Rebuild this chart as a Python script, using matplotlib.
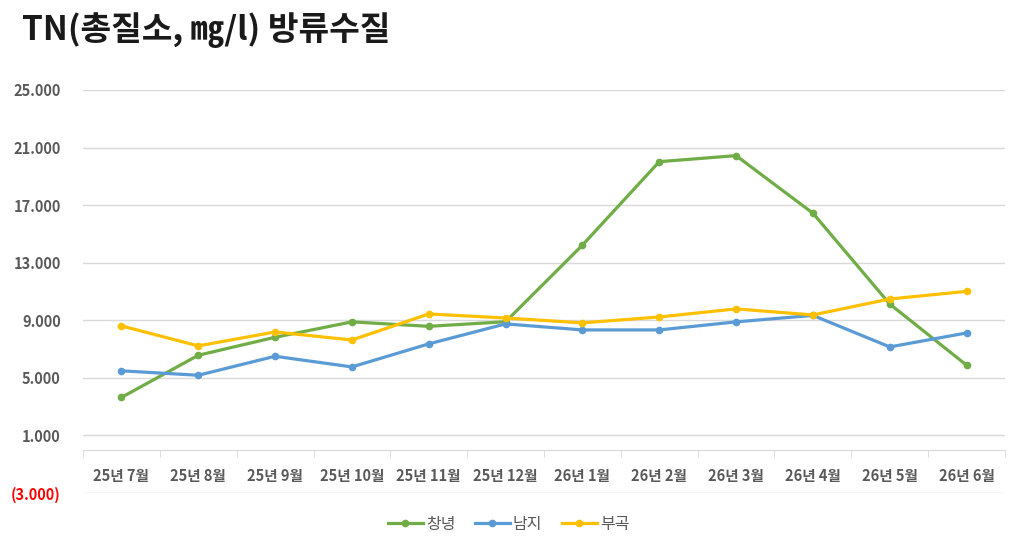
import matplotlib.pyplot as plt
from matplotlib.ticker import FixedLocator, FuncFormatter

plt.rcParams['font.family'] = ['Noto Sans CJK KR', 'DejaVu Sans']

months = ['25년 7월', '25년 8월', '25년 9월', '25년 10월', '25년 11월', '25년 12월',
          '26년 1월', '26년 2월', '26년 3월', '26년 4월', '26년 5월', '26년 6월']
changnyeong = [3.64, 6.57, 7.82, 8.89, 8.58, 8.90, 14.22, 20.02, 20.44, 16.44, 10.13, 5.88]
namji = [5.49, 5.18, 6.50, 5.76, 7.36, 8.75, 8.33, 8.33, 8.89, 9.34, 7.15, 8.12]
bugok = [8.61, 7.22, 8.19, 7.63, 9.44, 9.16, 8.82, 9.23, 9.79, 9.37, 10.48, 11.01]
yticks = [-3, 1, 5, 9, 13, 17, 21, 25]

grey = '#595959'
grid = '#D9D9D9'

fig = plt.figure(figsize=(10.17, 5.55), dpi=100)
ax = fig.add_axes([83 / 1017, 1 - 493 / 555, (1005 - 83) / 1017, (493 - 90) / 555])

x = list(range(len(months)))
ax.plot(x, changnyeong, color='#70AD47', lw=2.3, marker='o', ms=4.5, label='창녕')
ax.plot(x, namji, color='#5B9BD5', lw=2.3, marker='o', ms=4.5, label='남지')
ax.plot(x, bugok, color='#FFC000', lw=2.3, marker='o', ms=4.5, label='부곡')

ax.set_xlim(-0.5, len(months) - 0.5)
ax.set_ylim(-3, 25)

# y axis
ax.yaxis.set_major_locator(FixedLocator(yticks))
ax.yaxis.set_major_formatter(FuncFormatter(
    lambda v, p: f'({abs(v):.3f})' if v < 0 else f'{v:.3f}'))
ax.tick_params(axis='y', length=0, pad=16, labelsize=10.5, labelcolor=grey)
for lab in ax.get_yticklabels():
    lab.set_fontweight('bold')
    if lab.get_text().startswith('('):
        lab.set_color('red')
ax.grid(axis='y', color=grid, lw=1)
ax.set_axisbelow(True)

# x axis at zero
for s in ['top', 'right', 'left']:
    ax.spines[s].set_visible(False)
ax.spines['bottom'].set_position(('data', 0))
ax.spines['bottom'].set_color(grid)
ax.set_xticks(x)
ax.set_xticklabels(months, fontsize=10.5, color=grey, fontweight='bold')
ax.xaxis.set_minor_locator(FixedLocator([i - 0.5 for i in range(len(months) + 1)]))
ax.tick_params(axis='x', which='major', length=0, pad=13)
ax.tick_params(axis='x', which='minor', length=5, color=grid)

fig.text(22 / 1017, 1 - 30 / 555, 'TN(총질소, ㎎/l) 방류수질', fontsize=24,
         fontweight='bold', color='#1a1a1a', va='center', ha='left')

fig.legend(loc='center', bbox_to_anchor=(0.5, 1 - 524 / 555), ncol=3, frameon=False,
           fontsize=11.5, labelcolor=grey, handlelength=2.2, handletextpad=0.2,
           columnspacing=1.2)

plt.savefig('out.png', dpi=100)
plt.close()
